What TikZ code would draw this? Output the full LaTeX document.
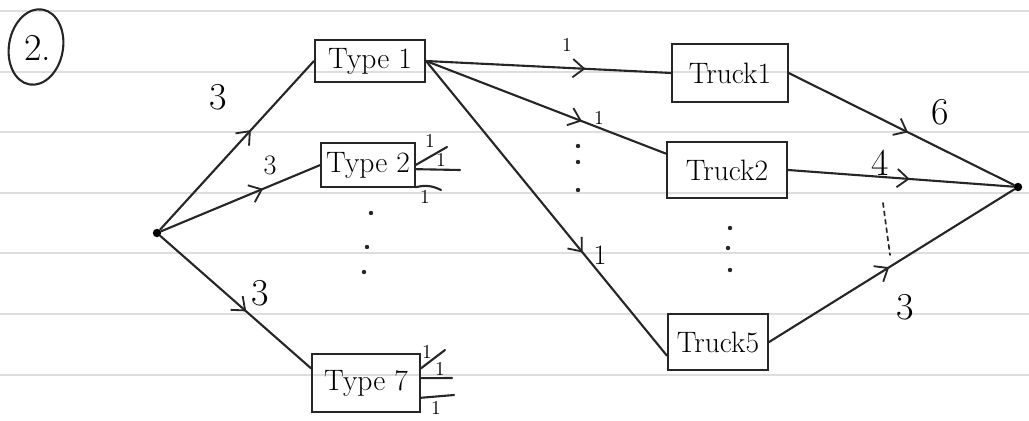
\documentclass[tikz,border=0pt]{standalone}
\usetikzlibrary{arrows.meta,decorations.markings,calc}
\begin{document}
\begin{tikzpicture}[x=0.025cm,y=-0.025cm,
  ink/.style={draw=black!85, line width=1.5pt, line cap=round},
  box/.style={ink, rectangle, inner sep=0pt, font=\fontsize{21}{24}\selectfont},
  dotnode/.style={circle, fill=black, inner sep=0pt, minimum size=6pt},
  midarr/.style={postaction={decorate}, decoration={markings, mark=at position #1 with {\arrow{Straight Barb[length=8pt,width=13pt,line width=1.3pt]}}}},
  lbl/.style={font=\fontsize{27}{30}\selectfont},
  smalllbl/.style={font=\fontsize{20}{24}\selectfont},
  tick/.style={font=\fontsize{14}{16}\selectfont, inner sep=0pt},
  rulebg/.style={draw=black!13, line width=0.8pt}
]
\useasboundingbox (0,0) rectangle (1029,420);
\fill[white] (0,0) rectangle (1029,420);
% ruled paper
\foreach \yy in {11,72,132,193,253,314,375}
  \draw[rulebg] (0,\yy) -- (1029,\yy);

% circled problem number
\draw[ink, rotate around={-10:(36,47)}] (36,47) ellipse (27 and 38);
\node[lbl] (num) at (38,48) {2.};

% nodes
\node[dotnode] (s) at (157,233) {};
\node[dotnode] (t) at (1018,187) {};
\node[box, minimum width=2.75cm, minimum height=1.05cm] (t1) at (370,61) {Type 1};
\node[box, minimum width=2.33cm, minimum height=1.1cm] (t2) at (368,165) {Type 2};
\node[box, minimum width=2.7cm, minimum height=1.43cm] (t7) at (366,383) {Type 7};
\node[box, minimum width=2.88cm, minimum height=1.43cm] (k1) at (730,73) {Truck1};
\node[box, minimum width=3.0cm, minimum height=1.38cm] (k2) at (727,170) {Truck2};
\node[box, minimum width=2.5cm, minimum height=1.38cm] (k5) at (718,342) {Truck5};

% source edges
\draw[ink, midarr=0.59] (s) -- (t1.west);
\draw[ink, midarr=0.64] (s) -- (t2.west);
\draw[ink, midarr=0.57] (s) -- (t7.165);
\node[lbl] (c1) at (218,97) {3};
\node[smalllbl] (c2) at (270,165) {3};
\node[lbl] (c7) at (260,293) {3};

% type1 to trucks
\draw[ink, midarr=0.65] (t1.east) -- (k1.west);
\draw[ink, midarr=0.65] (t1.east) -- (k2.165);
\draw[ink, midarr=0.65] (t1.east) -- (k5.195);
\node[tick] (u1) at (567,45) {1};
\node[tick] (u2) at (599,118) {1};
\node[smalllbl] (u5) at (600,255) {1};
\foreach \yy in {146,162,190}
  \fill[black!85] (578,\yy) circle (2.2);

% trucks to sink
\draw[ink, midarr=0.53] (k1.east) -- (t);
\draw[ink, midarr=0.54] (k2.east) -- (t);
\draw[ink, midarr=0.49] (k5.east) -- (t);
\node[lbl] (d1) at (940,112) {6};
\node[lbl] (d2) at (880,163) {4};
\node[lbl] (d5) at (905,307) {3};
\draw[ink, dashed, line width=1.2pt] (883,203) -- (890,255);

% vertical dots
\foreach \p in {(371,213),(367,247),(364,272),(730,228),(728,248),(730,270)}
  \fill[black!85] \p circle (2.2);

% stubs from Type 2
\coordinate (a1) at (447,147);
\coordinate (a2) at (460,170);
\coordinate (a3) at (441,190);
\draw[ink] (t2.east) -- (a1);
\draw[ink] (t2.-5) -- (a2);
\draw[ink] (t2.-25) to[bend left=20] (a3);
\node[tick] at (430,141) {1};
\node[tick] at (441,160) {1};
\node[tick] at (425,197) {1};

% stubs from Type 7
\coordinate (b1) at (445,350);
\coordinate (b2) at (452,378);
\coordinate (b3) at (454,395);
\draw[ink] (t7.15) -- (b1);
\draw[ink] (t7.5) -- (b2);
\draw[ink] (t7.-15) -- (b3);
\node[tick] at (427,352) {1};
\node[tick] at (440,369) {1};
\node[tick] at (436,408) {1};
\end{tikzpicture}
\end{document}
